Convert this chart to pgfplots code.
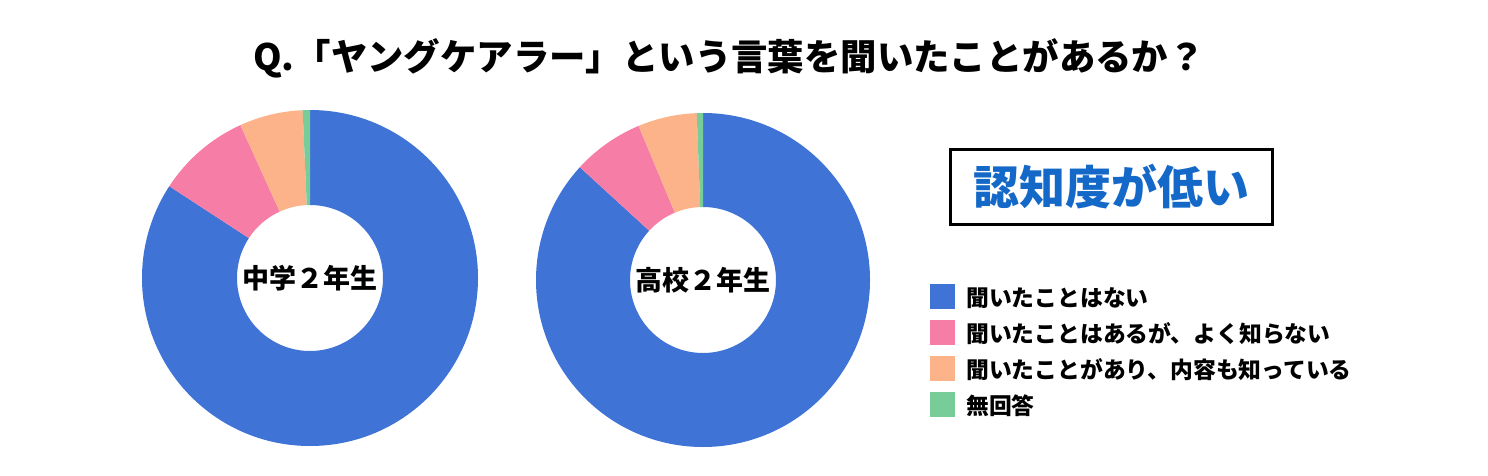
\documentclass[border=0pt]{standalone}
\usepackage{fontspec}
\usepackage{pgfplots}
\pgfplotsset{compat=1.18}
\usepackage{pgfplotstable}
\setmainfont{Noto Sans CJK JP}
\newfontfamily\jp{Noto Sans CJK JP}
\definecolor{cblue}{HTML}{3F73D6}
\definecolor{cpink}{HTML}{F67EA6}
\definecolor{corange}{HTML}{FDB38A}
\definecolor{cgreen}{HTML}{78CC98}
\definecolor{ctext}{HTML}{1468C8}

\pgfplotstableread{
idx chu kou
0 84.2 86.8
1 9.0 6.9
2 6.1 5.7
3 0.7 0.6
}\shares

\newcommand\donut[3]{%
  \pgfplotsextra{%
    \xdef\startang{90}%
    \foreach \i/\c in {0/cblue,1/cpink,2/corange,3/cgreen}{%
      \pgfplotstablegetelem{\i}{#1}\of\shares
      \pgfmathsetmacro\endang{\startang-3.6*\pgfplotsretval}%
      \fill[\c] (axis cs:{#2*cos(\startang)},{#2*sin(\startang)}) arc[start angle=\startang,end angle=\endang,radius=#2pt] -- (axis cs:{#3*cos(\endang)},{#3*sin(\endang)}) arc[start angle=\endang,end angle=\startang,radius=#3pt] -- cycle;
      \xdef\startang{\endang}%
    }%
  }%
}

\begin{document}
\begin{tikzpicture}[x=1pt,y=1pt]
\useasboundingbox (0,0) rectangle (1488,475);
\node[font=\jp\bfseries\fontsize{36.4}{42}\selectfont, inner sep=0pt] at (729,417) {Q.「ヤングケアラー」という言葉を聞いたことがあるか？};
\begin{axis}[hide axis, x=1pt, y=1pt, xmin=-180, xmax=180, ymin=-180, ymax=180,
  at={(310pt,197pt)}, anchor=origin, clip=false]
\donut{chu}{168}{73}
\node[font=\jp\bfseries\fontsize{27}{31}\selectfont] at (axis cs:0,0) {中学２年生};
\end{axis}
\begin{axis}[hide axis, x=1pt, y=1pt, xmin=-180, xmax=180, ymin=-180, ymax=180,
  at={(703pt,195pt)}, anchor=origin, clip=false,
  legend image code/.code={\fill[draw=none,#1] (0pt,-12.5pt) rectangle (25pt,12.5pt);},
  legend cell align=left,
  legend style={at={(1.1306,0.4889)}, anchor=north west, draw=none, fill=none,
    inner sep=0pt, row sep=11pt, font=\jp\bfseries\fontsize{22.8}{26}\selectfont,
    nodes={inner sep=0pt, text depth=0pt}},
  /tikz/every even column/.append style={column sep=0pt}]
\donut{kou}{167}{73}
\node[font=\jp\bfseries\fontsize{27}{31}\selectfont] at (axis cs:0,0) {高校２年生};
\addlegendimage{fill=cblue,draw=none}\addlegendentry{\hspace{11pt}聞いたことはない}
\addlegendimage{fill=cpink,draw=none}\addlegendentry{\hspace{11pt}聞いたことはあるが、よく知らない}
\addlegendimage{fill=corange,draw=none}\addlegendentry{\hspace{11pt}聞いたことがあり、内容も知っている}
\addlegendimage{fill=cgreen,draw=none}\addlegendentry{\hspace{11pt}無回答}
\end{axis}
\node[draw=black, line width=3.5pt, minimum width=322pt, minimum height=75pt, inner sep=0pt,
  font=\jp\bfseries\fontsize{46}{52}\selectfont, text=ctext] at (1111.5,288) {認知度が低い};
\end{tikzpicture}
\end{document}
